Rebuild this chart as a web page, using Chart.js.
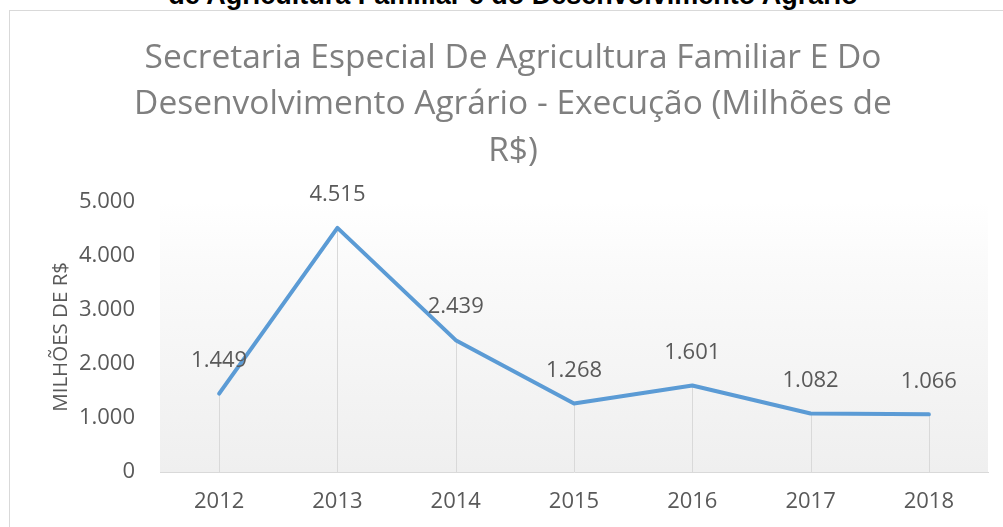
<!DOCTYPE html>
<html>
<head>
<meta charset="utf-8">
<script src="https://cdn.jsdelivr.net/npm/chart.js@4.4.1/dist/chart.umd.min.js"></script>
<style>
  html, body { margin: 0; padding: 0; background: #ffffff; }
  #wrap { position: relative; width: 1003px; height: 527px; overflow: hidden; }
  #frame { position: absolute; left: 9px; top: 10px; width: 1100px; height: 600px; border: 1px solid #d9d9d9; box-sizing: border-box; }
  #cut { position: absolute; left: 0; width: 1026px; top: -18px; line-height: 1; text-align: center; font-family: "Liberation Sans", Arial, sans-serif; font-weight: bold; font-size: 27px; color: #000; white-space: nowrap; }
  canvas { position: absolute; left: 0; top: 0; }
</style>
</head>
<body>
<div id="wrap">
  <div id="cut">de Agricultura Familiar e do Desenvolvimento Agrário</div>
  <div id="frame"></div>
  <canvas id="c" width="1003" height="527"></canvas>
</div>
<script>
const categories = ['2012', '2013', '2014', '2015', '2016', '2017', '2018'];
const execucao = [1449, 4515, 2439, 1268, 1601, 1082, 1066];
const titleLines = ['Secretaria Especial De Agricultura Familiar E Do', 'Desenvolvimento Agrário - Execução (Milhões de', 'R$)'];
const yAxisTitle = 'MILHÕES DE R$';
const yTicks = [0, 1000, 2000, 3000, 4000, 5000];

function fmt(v) {
  return String(Math.round(v)).replace(/\B(?=(\d{3})+(?!\d))/g, '.');
}

const bgPlugin = {
  id: 'plotBg',
  beforeDraw(chart) {
    const a = chart.chartArea, ctx = chart.ctx;
    const g = ctx.createLinearGradient(0, a.top, 0, a.bottom);
    g.addColorStop(0, '#ffffff');
    g.addColorStop(0.25, '#fafafa');
    g.addColorStop(1, '#efefef');
    ctx.save();
    ctx.fillStyle = g;
    ctx.fillRect(a.left, a.top, a.right - a.left, a.bottom - a.top);
    ctx.restore();
  }
};

const dropPlugin = {
  id: 'dropLines',
  beforeDatasetsDraw(chart) {
    const ctx = chart.ctx, a = chart.chartArea;
    const meta = chart.getDatasetMeta(0);
    ctx.save();
    ctx.strokeStyle = '#d9d9d9';
    ctx.lineWidth = 1;
    meta.data.forEach(p => {
      const x = Math.round(p.x) + 0.5;
      ctx.beginPath();
      ctx.moveTo(x, p.y);
      ctx.lineTo(x, a.bottom);
      ctx.stroke();
    });
    ctx.restore();
  }
};

const labelPlugin = {
  id: 'valueLabels',
  afterDatasetsDraw(chart) {
    const ctx = chart.ctx;
    const meta = chart.getDatasetMeta(0);
    const ds = chart.data.datasets[0].data;
    ctx.save();
    ctx.font = '22px "Open Sans"';
    ctx.fillStyle = '#595959';
    ctx.textAlign = 'center';
    ctx.textBaseline = 'middle';
    meta.data.forEach((p, i) => {
      ctx.fillText(fmt(ds[i]), p.x, p.y - 33);
    });
    ctx.restore();
  }
};

new Chart(document.getElementById('c'), {
  type: 'line',
  data: {
    labels: categories,
    datasets: [{
      data: execucao,
      borderColor: '#5b9bd5',
      borderWidth: 4,
      pointRadius: 0,
      pointHoverRadius: 0,
      tension: 0,
      fill: false,
      borderCapStyle: 'round',
      borderJoinStyle: 'round'
    }]
  },
  options: {
    responsive: false,
    animation: false,
    events: [],
    layout: { padding: { left: 38, right: 15, top: 0, bottom: 0 } },
    plugins: {
      legend: { display: false },
      tooltip: { enabled: false },
      title: {
        display: true,
        text: titleLines,
        color: '#7f7f7f',
        font: { family: '"Open Sans"', size: 33.5, weight: 'normal', lineHeight: 1.39 },
        padding: { top: 35, bottom: 27 }
      }
    },
    scales: {
      x: {
        offset: true,
        grid: { display: false, drawTicks: false },
        border: { display: true, color: '#d9d9d9', width: 1 },
        ticks: { color: '#595959', font: { family: '"Open Sans"', size: 22 }, padding: 17, maxRotation: 0 },
        afterFit(scale) { scale.height = 55; }
      },
      y: {
        min: 0,
        max: 5000,
        afterBuildTicks(scale) { scale.ticks = yTicks.map(v => ({ value: v })); },
        grid: { display: false, drawTicks: false },
        border: { display: false },
        ticks: { color: '#595959', font: { family: '"Open Sans"', size: 22 }, padding: 25, callback: v => fmt(v) },
        title: { display: true, text: yAxisTitle, color: '#595959', font: { family: '"Open Sans"', size: 20.5 }, padding: { top: 11, bottom: 0 } },
        afterFit(scale) { scale.width = 122; }
      }
    }
  },
  plugins: [bgPlugin, dropPlugin, labelPlugin]
});
</script>
</body>
</html>
